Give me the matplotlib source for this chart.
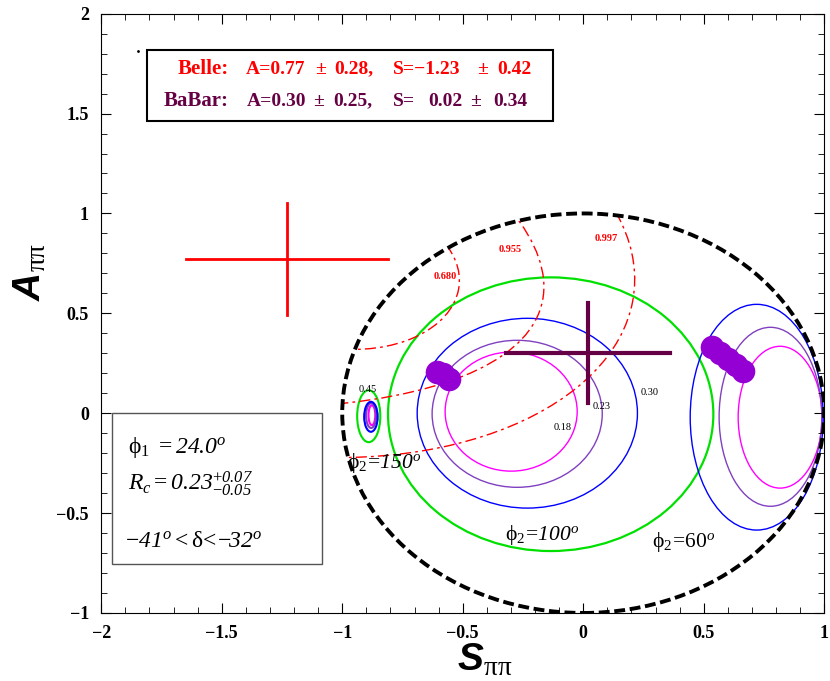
import numpy as np
import matplotlib.pyplot as plt
from matplotlib.patches import Ellipse, Rectangle, Circle

plt.rcParams['font.family'] = 'Liberation Serif'
plt.rcParams['mathtext.fontset'] = 'custom'
plt.rcParams['mathtext.rm'] = 'Liberation Serif'
plt.rcParams['mathtext.it'] = 'Liberation Serif:italic'
plt.rcParams['mathtext.bf'] = 'Liberation Serif:bold'
# \mathsf is used for italic numbers (\mathit keeps digits upright)
plt.rcParams['mathtext.sf'] = 'Liberation Serif:italic'
plt.rcParams['mathtext.fallback'] = 'stix'

# measurements: central value, error
belle_S = [-1.23, 0.42]
belle_A = [0.77, 0.28]
babar_S = [0.02, 0.34]
babar_A = [0.30, 0.25]

# Belle CL contours: centre S, centre A, width, height, angle (fitted to the traced curves)
cl_labels = ['0.680', '0.955', '0.997']
cl_S = [-0.987, -2.801, -1.158]
cl_A = [0.694, 1.311, 0.775]
cl_w = [0.951, 5.479, 2.760]
cl_h = [0.743, 2.107, 1.971]
cl_ang = [171, 163, 171]

# Rc curves: centre S, centre A, half width, half height  (Rc = 0.18, 0.23, 0.30, 0.45)
rc_values = ['0.18', '0.23', '0.30', '0.45']
rc_colors = ['#ff00ff', '#8040c0', '#0000ff', '#00e000']
phi100_S = [-0.299, -0.274, -0.232, -0.135]
phi100_A = [0.008, -0.003, 0.0, -0.005]
phi100_w = [0.274, 0.353, 0.457, 0.675]
phi100_h = [0.298, 0.368, 0.475, 0.685]
phi60_S = [0.817, 0.777, 0.720]
phi60_A = [-0.020, -0.018, -0.020]
phi60_w = [0.174, 0.213, 0.276]
phi60_h = [0.355, 0.448, 0.565]
phi150_S = [-0.877, -0.880, -0.881, -0.890]
phi150_A = [-0.010, -0.012, -0.018, -0.015]
phi150_w = [0.014, 0.021, 0.028, 0.048]
phi150_h = [0.050, 0.062, 0.075, 0.130]

# allowed points
blob_S = [-0.606, -0.581, -0.556, 0.535, 0.568, 0.602, 0.635, 0.664]
blob_A = [0.205, 0.195, 0.170, 0.330, 0.300, 0.270, 0.240, 0.210]

xticks = [-2, -1.5, -1, -0.5, 0, 0.5, 1]
xticklabels = ['\u22122', '\u22121.5', '\u22121', '\u22120.5', '0', '0.5', '1']
yticks = [-1, -0.5, 0, 0.5, 1, 1.5, 2]
yticklabels = ['\u22121', '\u22120.5', '0', '0.5', '1', '1.5', '2']

BABAR_COL = '#660044'

fig = plt.figure(figsize=(8.3, 6.81), dpi=100)
ax = fig.add_axes([0.122, 0.0999, 0.871, 0.880])
ax.set_xlim(-2, 1)
ax.set_ylim(-1, 2)

# physical region
ax.add_patch(Circle((0, 0), 1, fill=False, ls=(0, (2.8, 1.2)), lw=2.8, ec='black', zorder=5))
clip = Circle((0, 0), 1, transform=ax.transData)

# Rc curves for phi2 = 100, 60, 150
for S, A, w, h, col in zip(phi100_S, phi100_A, phi100_w, phi100_h, rc_colors):
    ax.add_patch(Ellipse((S, A), 2 * w, 2 * h, fill=False, ec=col, lw=1.6 if col == '#00e000' else 1.0))
for S, A, w, h, col in zip(phi60_S, phi60_A, phi60_w, phi60_h, rc_colors):
    ax.add_patch(Ellipse((S, A), 2 * w, 2 * h, fill=False, ec=col, lw=1.0))
for S, A, w, h, col in zip(phi150_S, phi150_A, phi150_w, phi150_h, rc_colors):
    ax.add_patch(Ellipse((S, A), 2 * w, 2 * h, fill=False, ec=col, lw=1.5))

# Belle CL contours, only inside the circle
for S, A, w, h, ang in zip(cl_S, cl_A, cl_w, cl_h, cl_ang):
    e = Ellipse((S, A), w, h, angle=ang, fill=False, ec='red', lw=1.0, ls=(0, (8, 3, 2, 3)))
    ax.add_patch(e)
    e.set_clip_path(clip)

ax.plot(blob_S, blob_A, 'o', color='#9400d3', ms=17, mec='none', zorder=4)

# error crosses
ax.plot([belle_S[0] - belle_S[1], belle_S[0] + belle_S[1]], [belle_A[0]] * 2, color='red', lw=2)
ax.plot([belle_S[0]] * 2, [belle_A[0] - belle_A[1], belle_A[0] + belle_A[1]], color='red', lw=2)
ax.plot([babar_S[0] - babar_S[1], babar_S[0] + babar_S[1]], [babar_A[0]] * 2, color=BABAR_COL, lw=3, zorder=6)
ax.plot([babar_S[0]] * 2, [babar_A[0] - babar_A[1], babar_A[0] + babar_A[1]], color=BABAR_COL, lw=3, zorder=6)

# curve labels
for lab, (s, a) in zip(rc_values, [(-0.124, -0.085), (0.037, 0.02), (0.237, 0.09), (-0.93, 0.105)]):
    ax.text(s, a, lab, fontsize=7.5, va='baseline')
for lab, (s, a) in zip(cl_labels, [(-0.622, 0.67), (-0.353, 0.805), (0.046, 0.86)]):
    ax.text(s, a, lab, fontsize=7.5, color='red', weight='bold', va='baseline')

ax.text(-0.98, -0.275, r'$\mathrm{\phi}_2\!=\!\mathsf{150}^o$', fontsize=15.5, va='baseline', zorder=7)
ax.text(-0.324, -0.635, r'$\mathrm{\phi}_2\!=\!\mathsf{100}^o$', fontsize=15.5, va='baseline')
ax.text(0.286, -0.67, r'$\mathrm{\phi}_2\!=\!\mathrm{60}^o$', fontsize=15.5, va='baseline')

# results box
ax.add_patch(Rectangle((-1.81, 1.465), 1.686, 0.355, fill=False, ec='black', lw=1.5))
ax.plot([-1.846], [1.815], '.', color='black', ms=2)
ax.text(-1.685, 1.70, 'Belle:', color='red', weight='bold', fontsize=15, va='baseline')
for txt, s in zip(['A=0.77', '\u00b1', '0.28,', 'S=\u22121.23', '\u00b1', '0.42'],
                  [-1.402, -1.112, -1.033, -0.788, -0.440, -0.357]):
    ax.text(s, 1.70, txt, color='red', weight='bold', fontsize=14, va='baseline')
ax.text(-1.743, 1.54, 'BaBar:', color=BABAR_COL, weight='bold', fontsize=15, va='baseline')
for txt, s in zip(['A=0.30', '\u00b1', '0.25,', 'S=', '0.02', '\u00b1', '0.34'],
                  [-1.394, -1.120, -1.037, -0.788, -0.643, -0.469, -0.373]):
    ax.text(s, 1.54, txt, color=BABAR_COL, weight='bold', fontsize=14, va='baseline')

# parameter box
ax.add_patch(Rectangle((-1.954, -0.755), 0.871, 0.755, fill=False, ec='#555555', lw=1.0))
ax.text(-1.888, -0.20, r'$\mathrm{\phi}_1\ = \mathsf{24.0}^o$', fontsize=17, va='baseline')
ax.text(-1.888, -0.385, r'$R_c = \mathsf{0.23}^{+\mathsf{0.07}}_{-\mathsf{0.05}}$', fontsize=17, va='baseline')
ax.text(-1.90, -0.67, r'$-\mathsf{41}^o < \mathrm{\delta}\!<\!\!-\!\!\mathsf{32}^o$', fontsize=17, va='baseline')

ax.set_xticks(xticks, labels=xticklabels)
ax.set_yticks(yticks, labels=yticklabels)
ax.set_xticks(np.arange(-2, 1.01, 0.1), minor=True)
ax.set_yticks(np.arange(-1, 2.01, 0.1), minor=True)
ax.tick_params(which='both', direction='in', top=True, right=True)
ax.tick_params(which='major', length=7, labelsize=13, pad=9)
ax.tick_params(which='minor', length=4)
for t in ax.get_xticklabels() + ax.get_yticklabels():
    t.set_fontweight('bold')

fig.text(485 / 830, 1 - 660 / 681, r'S$_{\mathrm{\pi\pi}}$', family='Liberation Sans', weight='bold', style='italic',
         fontsize=28, ha='center', va='center')
fig.text(30 / 830, 1 - 272 / 681, r'A$_{\mathrm{\pi\pi}}$', family='Liberation Sans', weight='bold', style='italic',
         fontsize=28, ha='center', va='center', rotation=90)

fig.savefig('out.png', dpi=100)
